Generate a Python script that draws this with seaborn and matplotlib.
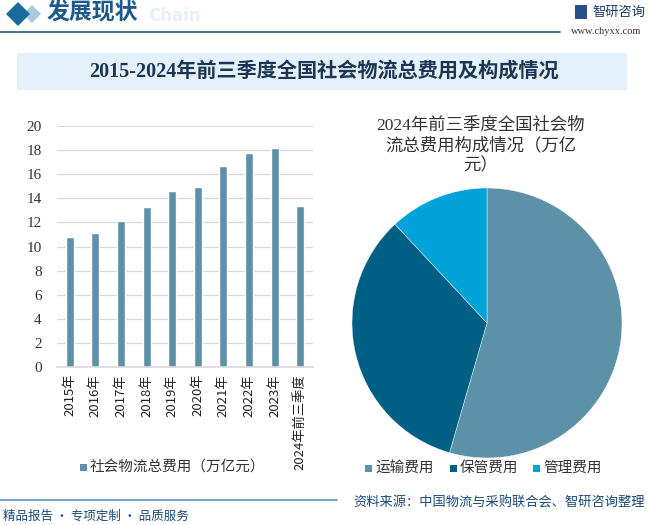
import numpy as np
import pandas as pd
import matplotlib
matplotlib.use('Agg')
import matplotlib.pyplot as plt
import seaborn as sns
from matplotlib.patches import Rectangle, Polygon

years = ['2015年', '2016年', '2017年', '2018年', '2019年', '2020年',
         '2021年', '2022年', '2023年', '2024年前三季度']
costs = [10.8, 11.1, 12.1, 13.3, 14.6, 14.9, 16.7, 17.8, 18.2, 13.4]

parts = ['运输费用', '保管费用', '管理费用']
part_values = [7.3, 4.5, 1.6]
part_colors = ['#5d91a8', '#005f84', '#00a2da']

sns.set_theme(style='white')
plt.rcParams['font.family'] = ['Noto Sans CJK SC', 'DejaVu Sans']
plt.rcParams['axes.unicode_minus'] = False

W, H = 648, 525
fig = plt.figure(figsize=(W / 100, H / 100), dpi=100)
fig.patch.set_facecolor('white')


def box(x0, y0, x1, y1):
    # pixel box (top-left origin) -> figure fraction rect
    return [x0 / W, 1 - y1 / H, (x1 - x0) / W, (y1 - y0) / H]


def fx(x):
    return x / W


def fy(y):
    return 1 - y / H


# header
fig.text(fx(148), fy(16), 'Chain', fontsize=12, color='#e8f1f8', fontweight='bold',
         ha='left', va='center', family=['DejaVu Sans'], zorder=0)
fig.patches.append(Polygon([[fx(23), fy(14)], [fx(32), fy(5)], [fx(41), fy(14)], [fx(32), fy(23)]],
                           closed=True, transform=fig.transFigure, facecolor='#a9cbe0', edgecolor='none'))
fig.patches.append(Polygon([[fx(6), fy(14)], [fx(18), fy(2)], [fx(30), fy(14)], [fx(18), fy(26)]],
                           closed=True, transform=fig.transFigure, facecolor='#1a6a9c', edgecolor='none'))
fig.text(fx(47), fy(13), '发展现状', fontsize=16.5, color='#1b5a8a', fontweight='bold',
         ha='left', va='center', zorder=2)
fig.add_artist(plt.Line2D([0, fx(560)], [fy(32), fy(32)], transform=fig.transFigure,
                          color='#1b5a8a', lw=1.2))
fig.patches.append(Rectangle((fx(575), fy(19)), 12 / W, 14 / H, transform=fig.transFigure,
                             facecolor='#2a4f88', edgecolor='none'))
fig.text(fx(592), fy(12), '智研咨询', fontsize=9.5, color='#1b3a6e', ha='left', va='center')
fig.text(fx(571), fy(32), 'www.chyxx.com', fontsize=7.5, color='#333333', ha='left', va='center',
         family=['Liberation Serif'])

# title band
fig.patches.append(Rectangle((fx(17), fy(90)), 610 / W, 37 / H, transform=fig.transFigure,
                             facecolor='#e5f1fa', edgecolor='none'))
fig.text(fx(324), fy(72), '2015-2024年前三季度全国社会物流总费用及构成情况', fontsize=14.5,
         color='#1c3554', fontweight='bold', ha='center', va='center',
         family=['Liberation Serif', 'Noto Sans CJK SC'])

# bar chart
ax = fig.add_axes(box(57, 126, 313, 367))
df = pd.DataFrame({'year': years, 'cost': costs})
sns.barplot(data=df, x='year', y='cost', color=part_colors[0], saturation=1,
            width=0.32, ax=ax)
ax.set_ylim(0, 20)
ax.set_yticks(range(0, 21, 2))
ax.yaxis.grid(True, color='#d9d9d9', lw=0.9)
ax.set_axisbelow(True)
for s in ['top', 'right', 'left']:
    ax.spines[s].set_visible(False)
ax.spines['bottom'].set_color('#d9d9d9')
ax.set_xlabel('')
ax.set_ylabel('')
ax.tick_params(axis='y', length=0, labelsize=11, labelcolor='#333333', pad=11)
ax.tick_params(axis='x', length=0, labelsize=9.5, labelcolor='#222222', pad=5)
for t in ax.get_yticklabels():
    t.set_family(['Liberation Serif'])
ax.set_xticks(range(len(years)))
ax.set_xticklabels(years, rotation=90, va='top', ha='center')

fig.patches.append(Rectangle((fx(80), fy(471)), 7 / W, 7 / H, transform=fig.transFigure,
                             facecolor=part_colors[0], edgecolor='none'))
fig.text(fx(90), fy(467), '社会物流总费用（万亿元）', fontsize=10.5, color='#333333',
         ha='left', va='center')

# pie chart
ax2 = fig.add_axes(box(352, 188, 622, 458))
ax2.pie(part_values, colors=part_colors, startangle=90, counterclock=False,
        wedgeprops=dict(edgecolor='white', linewidth=0.3))
ax2.set_xlim(-1, 1)
ax2.set_ylim(-1, 1)
ax2.set_aspect('equal')
fig.text(fx(481), fy(146), '2024年前三季度全国社会物\n流总费用构成情况（万亿\n元）',
         fontsize=12.5, color='#333333', ha='center', va='center', linespacing=1.3,
         family=['Liberation Serif', 'Noto Sans CJK SC'])

lx = [365, 450, 533]
for x, name, c in zip(lx, parts, part_colors):
    fig.patches.append(Rectangle((fx(x), fy(472)), 7 / W, 7 / H, transform=fig.transFigure,
                                 facecolor=c, edgecolor='none'))
    fig.text(fx(x + 10), fy(468), name, fontsize=10.5, color='#333333', ha='left', va='center')

# footer
fig.add_artist(plt.Line2D([0, fx(337)], [fy(500), fy(500)], transform=fig.transFigure,
                          color='#5d8fb8', lw=1.2))
fig.text(fx(3), fy(516), '精品报告 · 专项定制 · 品质服务', fontsize=9, color='#1b4a7a',
         ha='left', va='center')
fig.text(fx(645), fy(503), '资料来源：中国物流与采购联合会、智研咨询整理', fontsize=9.5,
         color='#1b4a7a', ha='right', va='center')

fig.savefig('out.png', dpi=100)
